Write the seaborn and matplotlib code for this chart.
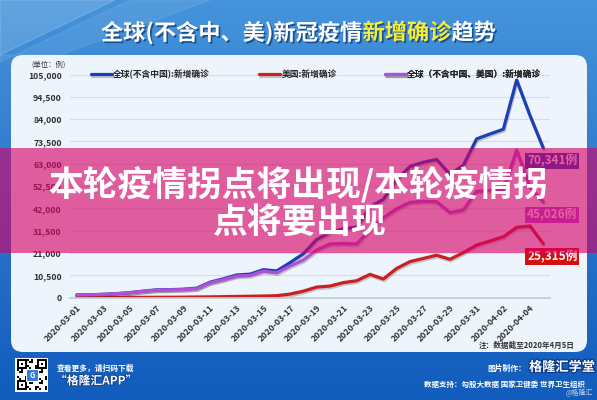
import numpy as np
import pandas as pd
import seaborn as sns
import matplotlib.pyplot as plt
import matplotlib.patheffects as pe
from matplotlib.patches import FancyBboxPatch, Rectangle, Polygon

# daily new confirmed cases, 2020-03-01 .. 2020-04-05
dates = pd.date_range("2020-03-01", "2020-04-05").strftime("%Y-%m-%d").tolist()

world_ex_cn = [1200, 1300, 1500, 1800, 2300, 3000, 3600, 3700, 3900, 4400,
               7200, 8800, 10600, 11000, 13100, 12500, 16400, 20600, 27300, 30600,
               32400, 33100, 42700, 46200, 55500, 61700, 63700, 65000, 58000, 62300,
               74700, 77000, 79200, 102400, 85700, 70341]
usa = [10, 20, 25, 30, 50, 70, 100, 120, 150, 250,
       300, 400, 500, 600, 700, 860, 1600, 3000, 4900, 5400,
       7000, 7900, 10900, 8700, 13700, 16900, 18400, 19900, 18000, 21100,
       24700, 26600, 28600, 33000, 33700, 25315]
world_ex_cn_us = [1190, 1280, 1475, 1770, 2250, 2930, 3500, 3580, 3750, 4150,
                  6900, 8400, 10100, 10400, 12400, 11640, 14800, 17600, 22400, 25200,
                  25400, 25200, 31800, 37500, 41800, 44800, 45300, 45100, 40000, 41200,
                  50000, 50400, 50600, 69400, 52000, 45026]

names = ["全球(不含中国):新增确诊", "美国:新增确诊", "全球（不含中国、美国）:新增确诊"]
colors = ["#1d3fb5", "#cc1f1f", "#b04fd8"]

df = pd.DataFrame({"date": dates, names[0]: world_ex_cn, names[1]: usa, names[2]: world_ex_cn_us})
df["pos"] = np.arange(len(df))
long = df.melt(id_vars=["date", "pos"], var_name="series", value_name="cases")

sns.set_theme(style="white")
CJK = ["Noto Sans CJK SC", "DejaVu Sans"]
plt.rcParams["font.family"] = CJK

W, H = 597, 400
fig = plt.figure(figsize=(W / 100, H / 100), dpi=100)

# ---- background (pixel coordinates, y down)
bg = fig.add_axes([0, 0, 1, 1], zorder=-5)
bg.set_xlim(0, W)
bg.set_ylim(H, 0)
bg.axis("off")
top = np.array([0.27, 0.58, 0.86])
bot = np.array([0.07, 0.36, 0.74])
t = np.linspace(0, 1, 200)[:, None, None]
grad = np.repeat(top + (bot - top) * t, 2, axis=1)
bg.imshow(grad, extent=[0, W, H, 0], aspect="auto", zorder=0)
bg.add_patch(Polygon([[0, 0], [115, 0], [0, 55]], closed=True, fc="white", alpha=0.15, zorder=1))
bg.add_patch(Polygon([[130, 0], [210, 0], [60, 55], [0, 55], [0, 62]], closed=True, fc="white", alpha=0.08, zorder=1))
bg.add_patch(FancyBboxPatch((11, 55), 576, 297, boxstyle="round,pad=0,rounding_size=12",
                            fc="#eef4fb", ec="none", zorder=2))

# title with highlighted words
r = fig.canvas.get_renderer()
parts = [("全球(不含中、美)新冠疫情", "white"), ("新增确诊", "#f4ee3a"), ("趋势", "white")]
title_texts = []
for s, c in parts:
    tt = fig.text(0, 1 - 33 / H, s, color=c, fontsize=16, fontweight="heavy", va="center", ha="left",
                  path_effects=[pe.withSimplePatchShadow(offset=(1.2, -1.2), shadow_rgbFace="#0b3570", alpha=0.7)])
    title_texts.append((tt, tt.get_window_extent(r).width))
x0 = (W - sum(w for _, w in title_texts)) / 2
for tt, w in title_texts:
    tt.set_x(x0 / W)
    x0 += w

# ---- chart
ax = fig.add_axes([70 / W, (H - 297.5) / H, 480 / W, 223 / H], zorder=1)
ax.set_facecolor("none")
sns.lineplot(data=long, x="pos", y="cases", hue="series", hue_order=names, palette=colors,
             linewidth=2.3, legend=False, ax=ax)
for line in ax.lines:
    line.set_path_effects([pe.SimpleLineShadow(offset=(0.6, -1.2), shadow_color="k", alpha=0.22), pe.Normal()])

ax.set_xlim(-0.5, len(dates) - 0.5)
ax.set_ylim(0, 105000)
ax.set_yticks(np.arange(0, 105001, 10500))
ax.yaxis.set_major_formatter(lambda v, p: f"{v:,.0f}")
ax.set_xticks(df["pos"][::2])
ax.set_xticklabels(df["date"][::2], rotation=45, ha="right", rotation_mode="anchor")
ax.set_xticks(np.arange(-0.5, len(dates), 2), minor=True)
ax.tick_params(axis="y", length=0, pad=6, labelsize=6.3, labelcolor="#333333")
ax.tick_params(axis="x", which="major", length=0, pad=4, labelsize=6.3, labelcolor="#333333")
ax.tick_params(axis="x", which="minor", length=3, width=0.8, color="#c3cbd6")
for lbl in ax.get_xticklabels() + ax.get_yticklabels():
    lbl.set_fontweight("bold")
ax.yaxis.grid(True, color="#d6dde6", lw=0.8)
ax.set_axisbelow(True)
ax.set_xlabel("")
ax.set_ylabel("")
sns.despine(ax=ax, left=True)
ax.spines["bottom"].set_color("#c3cbd6")

# legend row, one entry each
for line, lbl, xp in zip(ax.lines, names, [91, 259, 385]):
    leg = ax.legend([line], [lbl], loc="center left", bbox_to_anchor=((xp - 70) / 480, 1.0),
                    frameon=False, borderpad=0, borderaxespad=0, handlelength=2.4, handletextpad=0.15,
                    prop={"size": 6.3, "weight": "bold"})
    ax.add_artist(leg)

# end-of-line value labels
for vals, c in zip([world_ex_cn, world_ex_cn_us, usa], [colors[0], colors[2], "#d40f0f"]):
    ax.annotate(f"{vals[-1]:,}例", xy=(len(vals) - 1, vals[-1]), xytext=(9, -13), textcoords="offset pixels",
                ha="center", va="center", fontsize=8.5, fontweight="bold", color="white",
                bbox=dict(boxstyle="square,pad=0.15", fc=c, ec="none"))

bg.text(31, 65, "(单位：例)", fontsize=5.3, color="#333333", va="center", ha="left")
bg.text(575, 345, "注：数据截至2020年4月5日", fontsize=5.5, color="#333333", va="center", ha="right",
        fontweight="bold", zorder=3)

# ---- footer
bg.add_patch(Rectangle((15, 358), 33, 34, fc="white", ec="none", zorder=3))
qr = np.fromfunction(lambda i, j: ((i * 7 + j * 3 + i * j) % 5 < 2).astype(float), (15, 15))
for a, b in [(0, 0), (0, 10), (10, 0)]:
    qr[a:a + 5, b:b + 5] = 1
    qr[a + 1:a + 4, b + 1:b + 4] = 0
    qr[a + 2, b + 2] = 1
bg.imshow(qr, cmap="Greys", extent=[16.5, 46.5, 390.5, 359.5], zorder=4, interpolation="nearest", aspect="auto")
bg.add_patch(Rectangle((26, 369), 12, 12, fc="#2f7de0", ec="white", lw=0.8, zorder=5))
bg.text(32, 375, "G", color="white", fontsize=5.5, fontweight="bold", ha="center", va="center", zorder=6)
bg.text(57, 368, "查看更多，请扫码下载", color="white", fontsize=5.6, fontweight="bold", va="center")
bg.text(55, 381, "“格隆汇APP”", color="white", fontsize=8.5, fontweight="heavy", va="center",
        path_effects=[pe.withStroke(linewidth=1.2, foreground="#0d3f8a")])
bg.text(526, 368, "图片制作：", color="white", fontsize=5.6, fontweight="bold", va="center", ha="right")
bg.text(529, 367, "格隆汇学堂", color="white", fontsize=9.5, fontweight="heavy", va="center", ha="left",
        path_effects=[pe.withStroke(linewidth=1.8, foreground="#0b3a8c")])
bg.text(585, 384, "数据支持：勾股大数据 国家卫健委 世界卫生组织", color="white", fontsize=5.4,
        fontweight="bold", va="center", ha="right")
bg.text(593, 393, "@格隆汇", color="#c5d0e0", fontsize=5, va="center", ha="right")

# ---- translucent headline banner on top
ov = fig.add_axes([0, 0, 1, 1], zorder=5, label="overlay")
ov.set_xlim(0, W)
ov.set_ylim(H, 0)
ov.axis("off")
ov.add_patch(Rectangle((0, 148), W, 105, fc="#d60066", alpha=0.62, ec="none"))
ov.text(W / 2, 185, "本轮疫情拐点将出现/本轮疫情拐", color="white", fontsize=25, fontweight="heavy",
        ha="center", va="center")
ov.text(W / 2, 222, "点将要出现", color="white", fontsize=25, fontweight="heavy", ha="center", va="center")

fig.savefig("out.png", dpi=100)
